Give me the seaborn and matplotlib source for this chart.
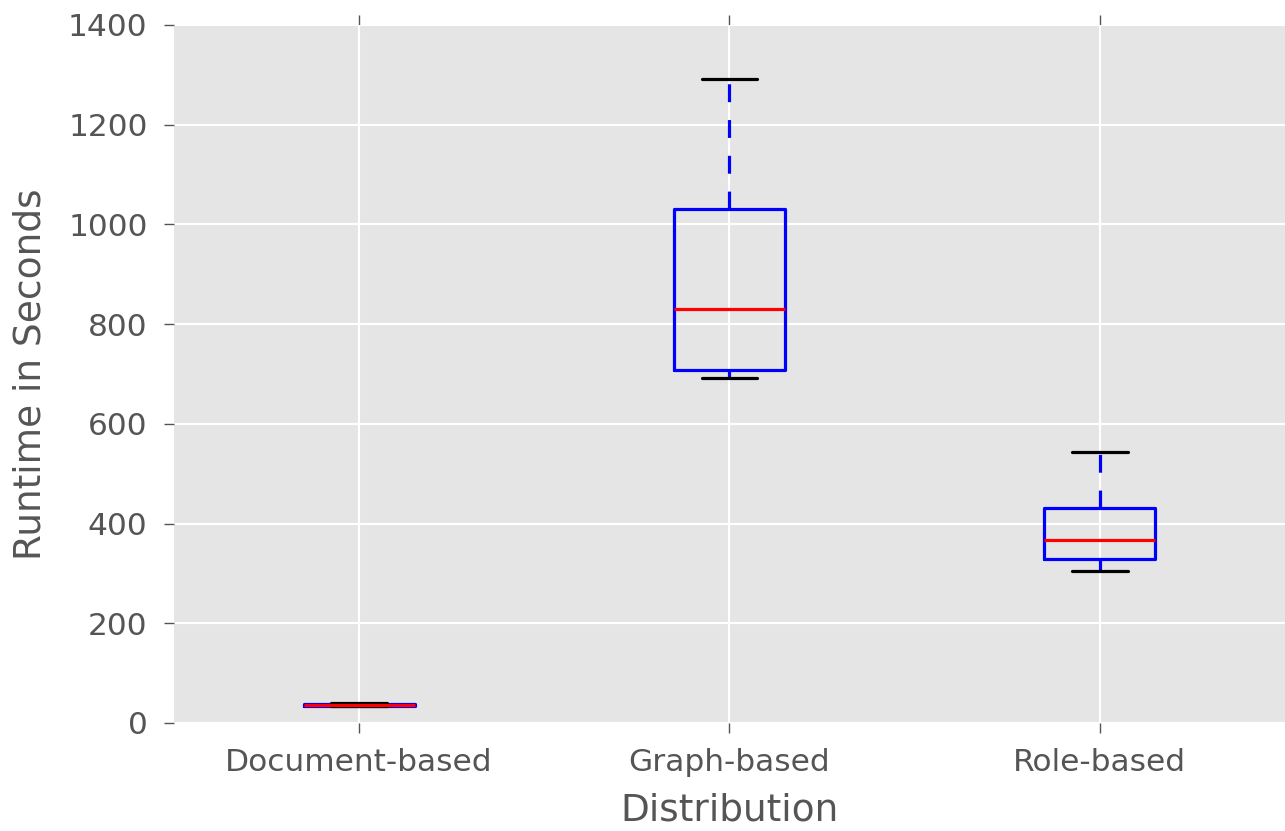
import matplotlib
matplotlib.use("Agg")
import matplotlib.pyplot as plt
import seaborn as sns
import pandas as pd

# Five-number summaries (min, Q1, median, Q3, max)
categories = ["Document-based", "Graph-based", "Role-based"]
doc_runtime = [34, 35, 37, 39, 41]
graph_runtime = [692, 708, 830, 1031, 1291]
role_runtime = [305, 329, 367, 431, 544]
yticks = [0, 200, 400, 600, 800, 1000, 1200, 1400]

df = pd.DataFrame({
    "Distribution": [categories[0]] * len(doc_runtime)
    + [categories[1]] * len(graph_runtime)
    + [categories[2]] * len(role_runtime),
    "Runtime": doc_runtime + graph_runtime + role_runtime,
})

sns.set_theme(style="darkgrid")
plt.rcParams["font.family"] = ["DejaVu Sans"]
plt.rcParams["axes.facecolor"] = "#E5E5E5"
plt.rcParams["grid.color"] = "white"
plt.rcParams["grid.linewidth"] = 1.5

fig = plt.figure(figsize=(12.85, 8.31), dpi=100)
ax = fig.add_axes([0.1354, 0.130, 0.8646, 0.840])

lw = 2.3
sns.boxplot(
    data=df, x="Distribution", y="Runtime", order=categories,
    width=0.3, fill=False, color="blue", ax=ax, whis=1.5,
    boxprops=dict(color="blue", linewidth=lw),
    medianprops=dict(color="red", linewidth=lw),
    whiskerprops=dict(color="blue", linewidth=lw, linestyle=(0, (5.6, 5.6))),
    capprops=dict(color="black", linewidth=lw),
    flierprops=dict(marker="+", markeredgecolor="blue"),
)

ax.set_ylim(0, 1400)
ax.set_yticks(yticks)
ax.xaxis.grid(True)
ax.yaxis.grid(True)
ax.set_axisbelow(True)
for s in ax.spines.values():
    s.set_visible(False)

ax.tick_params(axis="both", which="major", direction="out", length=7, width=1,
               color="#555555", labelcolor="#555555", labelsize=22.5)
ax.tick_params(axis="x", top=True, bottom=True, pad=11)
ax.tick_params(axis="y", left=True, right=True, pad=12)
ax.set_xlabel("Distribution", fontsize=27, color="#555555", labelpad=11)
ax.set_ylabel("Runtime in Seconds", fontsize=27, color="#555555", labelpad=14)

fig.savefig("out.png", dpi=100)
